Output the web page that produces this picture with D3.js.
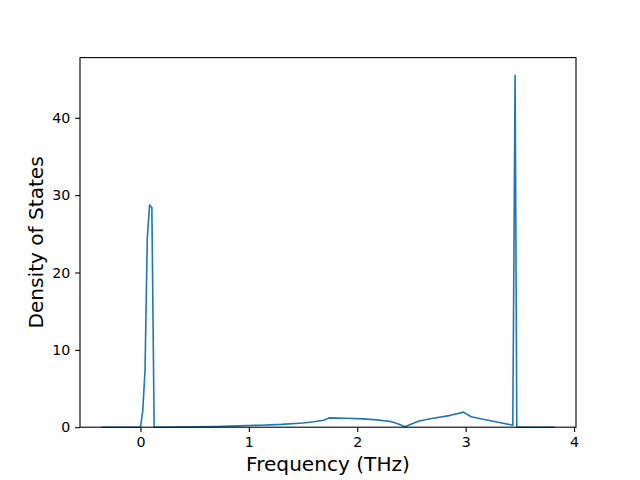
<!DOCTYPE html>
<html>
<head>
<meta charset="utf-8">
<script src="https://cdn.jsdelivr.net/npm/d3@7"></script>
<style>
  html, body { margin: 0; padding: 0; background: #fff; }
  svg { display: block; }
  text { font-family: "DejaVu Sans", sans-serif; fill: #000; }
</style>
</head>
<body>
<svg id="chart" width="640" height="480"></svg>
<script>
// Frequency (THz) sample points and Density of States values
const freq = [-0.35, 0.0, 0.021, 0.042, 0.063, 0.084, 0.105, 0.126,
  0.3, 0.5, 0.7, 0.9, 1.1, 1.3, 1.5, 1.6, 1.69, 1.74, 1.9, 2.05, 2.18, 2.31,
  2.38, 2.44, 2.5, 2.57, 2.7, 2.85, 2.98, 3.05, 3.15, 3.3, 3.435, 3.456, 3.472, 3.81];
const dos = [0, 0, 2.1, 7.4, 24.5, 28.7, 28.4, 0,
  0.02, 0.05, 0.1, 0.17, 0.26, 0.37, 0.55, 0.7, 0.9, 1.2, 1.15, 1.08, 0.95, 0.73,
  0.4, 0.05, 0.4, 0.8, 1.15, 1.5, 1.95, 1.35, 1.05, 0.65, 0.25, 45.5, 0, 0];
const xTicks = [0, 1, 2, 3, 4];
const yTicks = [0, 10, 20, 30, 40];
const xLabel = "Frequency (THz)";
const yLabel = "Density of States";

const W = 640, H = 480;
const mLeft = 80, mRight = 576, mTop = 57.6, mBottom = 427.2;
const svg = d3.select("#chart");
svg.append("rect").attr("width", W).attr("height", H).attr("fill", "#fff");

const xmin = d3.min(freq), xmax = d3.max(freq);
const xm = (xmax - xmin) * 0.05;
const x = d3.scaleLinear().domain([xmin - xm, xmax + xm]).range([mLeft, mRight]);
const y = d3.scaleLinear().domain([0, d3.max(dos) * 1.05]).range([mBottom, mTop]);

const tickLen = 4.86, pad = 4.86;
const fs = "14.2px";

const gx = svg.append("g").attr("transform", `translate(0,${mBottom})`)
  .call(d3.axisBottom(x).tickValues(xTicks).tickFormat(d3.format("d"))
    .tickSize(tickLen).tickPadding(pad).tickSizeOuter(0));
gx.select(".domain").remove();
gx.selectAll("line").attr("stroke", "#000").attr("stroke-width", 1.1);
gx.selectAll("text").style("font-size", fs).style("font-family", "DejaVu Sans");

const gy = svg.append("g").attr("transform", `translate(${mLeft},0)`)
  .call(d3.axisLeft(y).tickValues(yTicks).tickFormat(d3.format("d"))
    .tickSize(tickLen).tickPadding(pad).tickSizeOuter(0));
gy.select(".domain").remove();
gy.selectAll("line").attr("stroke", "#000").attr("stroke-width", 1.1);
gy.selectAll("text").style("font-size", fs).style("font-family", "DejaVu Sans");

const pts = freq.map((f, i) => [f, dos[i]]);
const line = d3.line().x(d => x(d[0])).y(d => y(d[1]));
svg.append("path").datum(pts).attr("d", line)
  .attr("fill", "none").attr("stroke", "#1f77b4").attr("stroke-width", 1.6)
  .attr("stroke-linejoin", "round").attr("stroke-linecap", "square");

// spines
svg.append("rect").attr("x", mLeft).attr("y", mTop)
  .attr("width", mRight - mLeft).attr("height", mBottom - mTop)
  .attr("fill", "none").attr("stroke", "#000").attr("stroke-width", 1.1);

svg.append("text").attr("x", (mLeft + mRight) / 2).attr("y", 471)
  .attr("text-anchor", "middle").style("font-size", "20.1px").text(xLabel);
svg.append("text").attr("transform", `translate(43,${(mTop + mBottom) / 2}) rotate(-90)`)
  .attr("text-anchor", "middle").style("font-size", "20.1px").text(yLabel);
</script>
</body>
</html>
